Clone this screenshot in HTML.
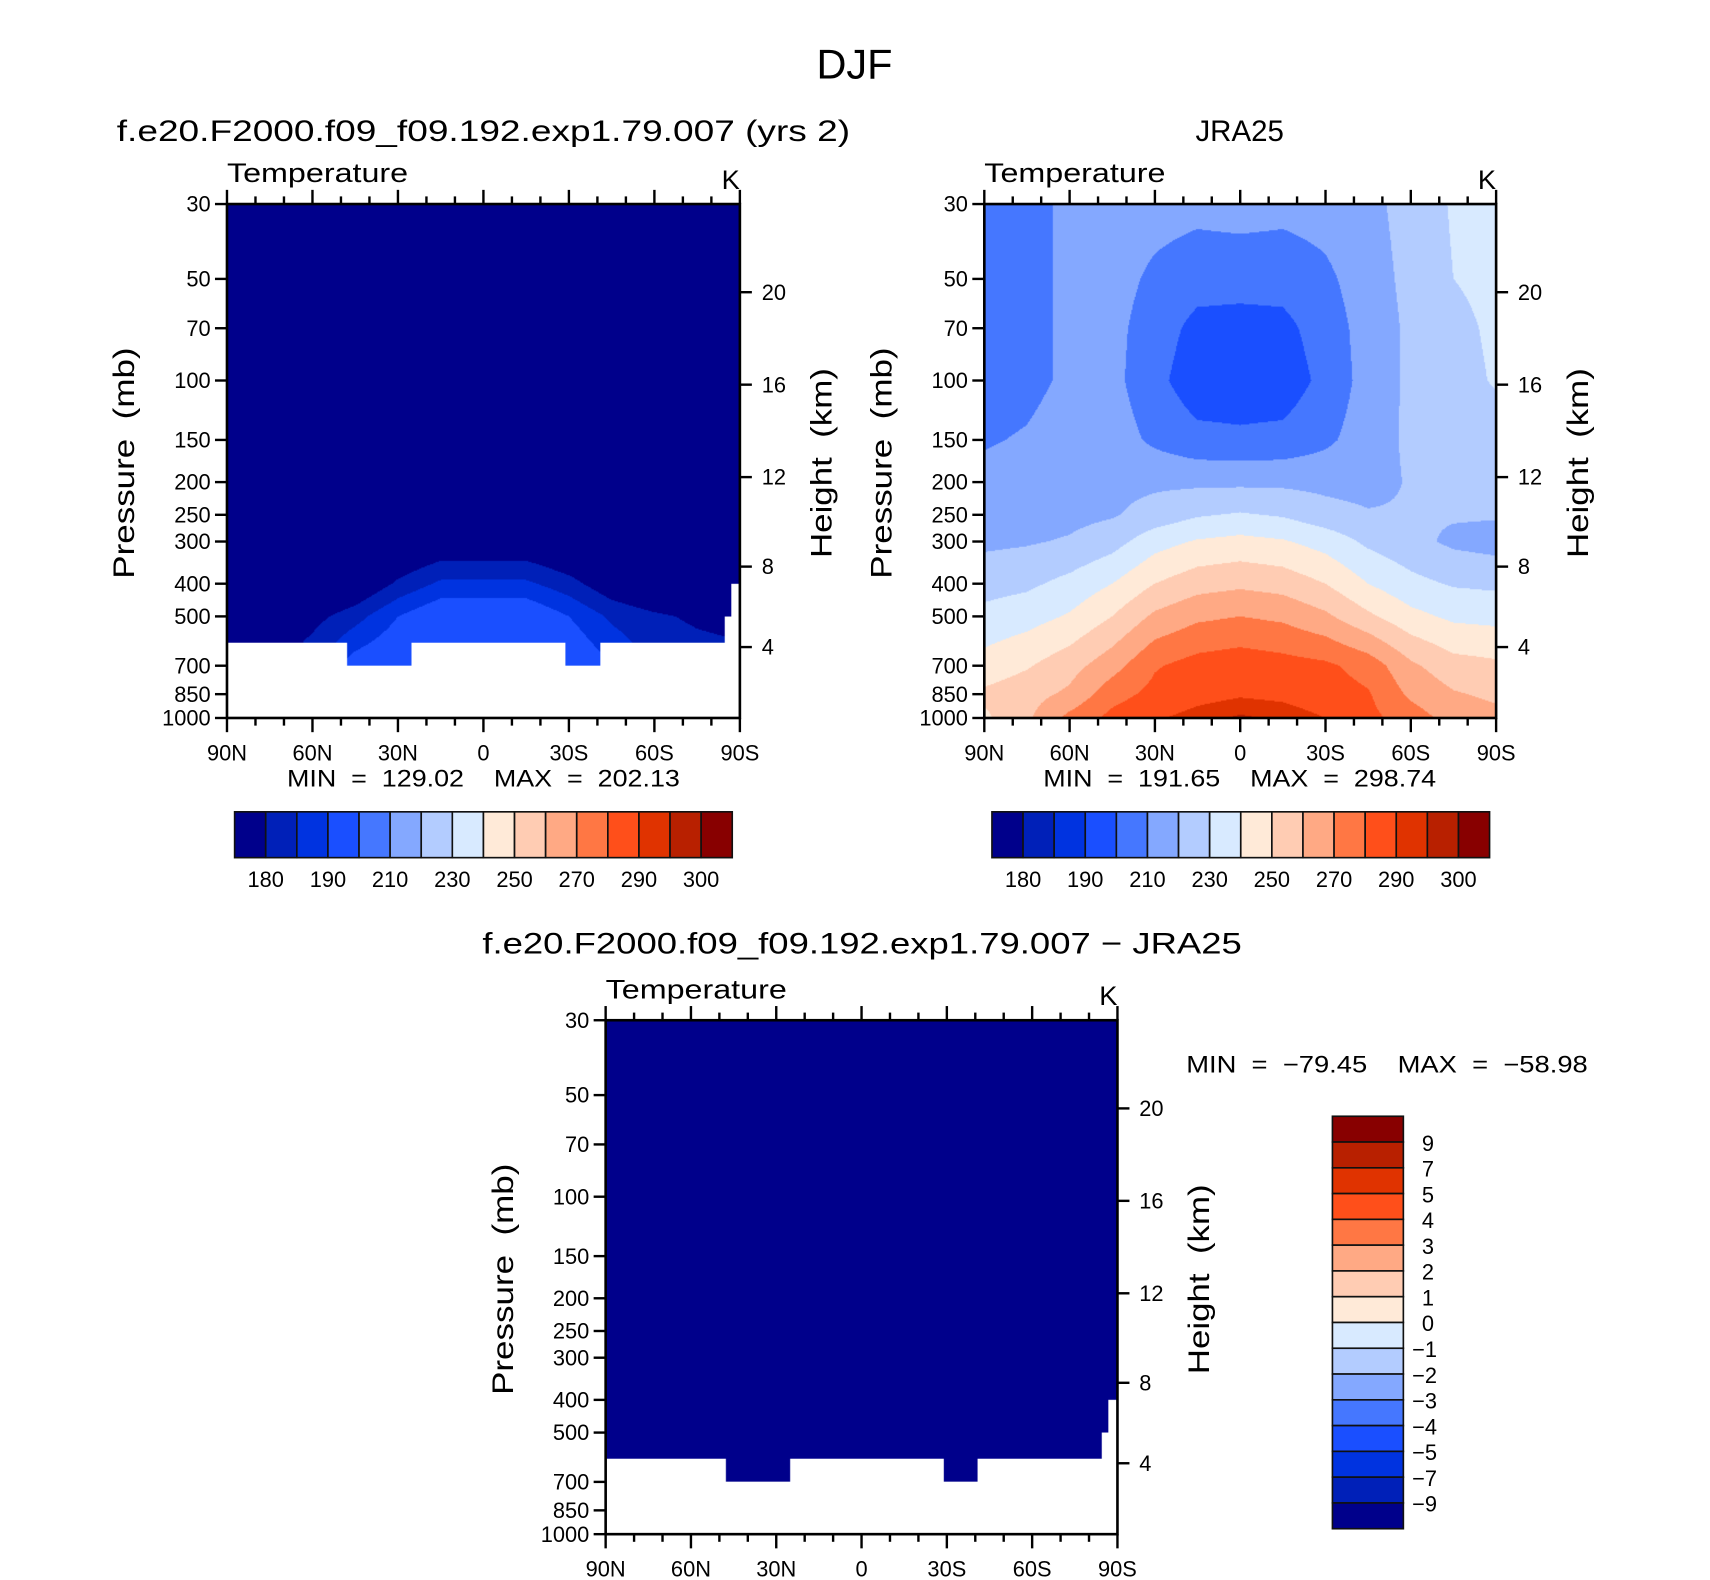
<!DOCTYPE html>
<html><head><meta charset="utf-8"><style>
html,body{margin:0;padding:0;background:#fff;}
#wrap{position:relative;width:1710px;height:1580px;overflow:hidden;background:#fff;}
canvas{position:absolute;}
svg{position:absolute;left:0;top:0;}
text{font-family:"Liberation Sans",sans-serif;fill:#000;white-space:pre;}
</style></head><body>
<div id="wrap">
<canvas id="c1"></canvas>
<canvas id="c2"></canvas>
<canvas id="c3"></canvas>
<svg id="svg" width="1710" height="1580" viewBox="0 0 1567 1448" preserveAspectRatio="none"></svg>
</div>
<script>
// ---- data ----
const pressureLevels=[30,50,70,100,150,200,250,300,400,500,700,850,1000];
const latitudes=[90,75,60,45,30,15,0,-15,-30,-45,-60,-75,-90];
const jraField=[
[205,207,212,215,214,213,214,213,214,217,224,231,234],
[204,207,212,214,208,204,204,204,208,215,223,230,233],
[204,207,212,213,205,197,196,197,205,214,222,227,232],
[205,207,212,213,203,194,194,194,203,214,222,226,231],
[209,211,215,215,208,203,202,203,208,215,222,223,225],
[213,214,216,217,218,218,218,218,217,216,221,222,222],
[215,216,217,219,224,229,231,229,224,221,221,221,221],
[218,219,221,226,236,241,243,241,236,228,223,218,216],
[226,228,233,240,250,256,258,256,250,240,233,229,228],
[233,236,241,250,262,268,270,268,262,252,243,238,237],
[244,249,256,266,279,284,286,284,282,276,262,254,252],
[252,256,262,276,283,287,289,288,285,281,268,261,258],
[248,258,273,283,289,293,296,294,290,283,275,266,263]];
const modelField=[
[150,152,155,158,160,162,162,162,160,158,156,154,152],
[148,150,153,156,158,160,160,160,158,156,154,152,150],
[146,148,152,155,157,158,158,158,157,155,153,151,149],
[145,148,152,156,158,156,155,156,158,156,153,150,148],
[150,153,157,160,162,163,163,163,162,160,157,154,152],
[158,160,162,164,166,167,167,167,166,164,162,160,158],
[162,163,165,167,169,171,171,171,169,167,165,163,162],
[165,166,167,169,172,175,175,175,172,169,167,166,165],
[170,170,171,174,181,186,186,186,182,176,173,172,171],
[172,174,178,183,190,195,195,195,190,184,181,179,178],
[176,178,184,193,196,197,197,197,196,190,184,183,182],
[178,180,186,195,198,199,199,199,198,192,186,185,184],
[180,182,188,197,200,201,202,201,200,194,188,187,186]];
const tempLevels=[180,185,190,200,210,220,230,240,250,260,270,280,290,295,300];
const tempLabels=[180,190,210,230,250,270,290,300];
const diffLevels=[-9,-7,-5,-4,-3,-2,-1,0,1,2,3,4,5,7,9];
const diffLabels=["9","7","5","4","3","2","1","0","−1","−2","−3","−4","−5","−7","−9"];
const maskEdges=[90,47.8,25.2,-28.8,-41,-84.8,-87.1,-90];
const maskBottom=[600,700,600,700,600,500,400];
const pTicks=[30,50,70,100,150,200,250,300,400,500,700,850,1000];
const hTicks=[4,8,12,16,20];
const latTicks=[90,60,30,0,-30,-60,-90];
const latTickLabels=["90N","60N","30N","0","30S","60S","90S"];
const palette=["#00008b","#0020b8","#0033e0","#1a4fff","#4577ff","#84a8ff","#b3ccff","#d8eaff","#ffead8","#ffccb3","#ffa984","#ff7744","#ff4f1a","#e03300","#b82000","#880000"];

// ---- helpers ----
const SX=1710/1567, SY=1580/1448;
const svg=document.getElementById('svg');
const NS="http://www.w3.org/2000/svg";
function mk(tag,attrs,parent){const e=document.createElementNS(NS,tag);for(const k in attrs)e.setAttribute(k,attrs[k]);(parent||svg).appendChild(e);return e;}
function txt(s,x,y,size,anchor,parent,extra){const t=mk('text',Object.assign({x:x,y:y,'font-size':size,'text-anchor':anchor||'start'},extra||{}),parent);t.textContent=s;return t;}
const LP=Math.log(1000/30);
function pToFrac(p){return Math.log(p/30)/LP;}
function heightToP(z){const m=z*1000;return m<11000?1013.25*Math.pow(1-2.25577e-5*m,5.25588):226.32*Math.exp(-(m-11000)/6341.6);}
function bottomAt(lat){for(let i=0;i<maskBottom.length;i++){if(lat<=maskEdges[i]&&lat>=maskEdges[i+1])return maskBottom[i];}return 1000;}
function sample(field,lat,p){
  let fi=(90-lat)/15; fi=Math.max(0,Math.min(12,fi));
  const lp=Math.log(p);let li=0;
  for(let k=0;k<pressureLevels.length-1;k++){if(p>=pressureLevels[k]&&p<=pressureLevels[k+1]){li=k+(lp-Math.log(pressureLevels[k]))/(Math.log(pressureLevels[k+1])-Math.log(pressureLevels[k]));break;}}
  if(p>1000)li=12;
  const i0=Math.min(11,Math.floor(fi)),j0=Math.min(11,Math.floor(li));const a=fi-i0,b=li-j0;
  const v00=field[j0][i0],v01=field[j0][i0+1],v10=field[j0+1][i0],v11=field[j0+1][i0+1];
  return (1-a)*(1-b)*v00+a*(1-b)*v01+(1-a)*b*v10+a*b*v11;
}
function colorIdx(v,levels){let c=0;for(const l of levels)if(v>=l)c++;return c;}
function hex(h){return [parseInt(h.substr(1,2),16),parseInt(h.substr(3,2),16),parseInt(h.substr(5,2),16)];}
const rgbPal=palette.map(hex);

function drawField(id,ox,oy,w,h,valFn,levels,useMask){
  const c=document.getElementById(id);c.width=w;c.height=h;
  c.style.left=(ox*SX)+'px';c.style.top=(oy*SY)+'px';c.style.width=(w*SX)+'px';c.style.height=(h*SY)+'px';
  const ctx=c.getContext('2d');const img=ctx.createImageData(w,h);
  for(let x=0;x<w;x++){const lat=90-(x+0.5)/w*180;const bot=useMask?bottomAt(lat):1000;
    for(let y=0;y<h;y++){const p=30*Math.exp((y+0.5)/h*LP);const o=(y*w+x)*4;
      if(p>bot){img.data[o]=255;img.data[o+1]=255;img.data[o+2]=255;img.data[o+3]=255;continue;}
      const col=rgbPal[colorIdx(valFn(lat,p),levels)];
      img.data[o]=col[0];img.data[o+1]=col[1];img.data[o+2]=col[2];img.data[o+3]=255;}}
  ctx.putImageData(img,0,0);
}

function drawAxes(name,ox,oy,w,h){
  const g=mk('g',{});
  const st={stroke:'#000','stroke-width':2.2};
  mk('rect',{x:ox,y:oy,width:w,height:h,fill:'none',stroke:'#000','stroke-width':2.4},g);
  for(const p of pTicks){const y=oy+pToFrac(p)*h;
    mk('line',Object.assign({x1:ox-11,y1:y,x2:ox,y2:y},st),g);
    const t=txt(String(p),ox-15,y+7,20,'end',g);}
  for(const z of hTicks){const y=oy+pToFrac(heightToP(z))*h;
    mk('line',Object.assign({x1:ox+w,y1:y,x2:ox+w+11,y2:y},st),g);
    const t=txt(String(z),ox+w+20,y+7,20,'start',g);}
  for(let lat=90;lat>=-90;lat-=10){const x=ox+(90-lat)/180*w;const major=(lat%30===0);const L=major?13:7;
    mk('line',Object.assign({x1:x,y1:oy+h,x2:x,y2:oy+h+L},st),g);
    mk('line',Object.assign({x1:x,y1:oy,x2:x,y2:oy-L},st),g);}
  latTicks.forEach((lat,i)=>{const x=ox+(90-lat)/180*w;
    const t=txt(latTickLabels[i],x,oy+h+39,20,'middle',g);});
  const t1=txt('Temperature',ox,oy-20,25,'start',g,{textLength:166,lengthAdjust:'spacingAndGlyphs'});
  const t2=txt('K',ox+w,oy-14,25,'end',g);
  const cy=oy+h*0.504;
  const t3=txt('Pressure  (mb)',ox-85,cy,27,'middle',g,{transform:`rotate(-90 ${ox-85} ${cy})`,textLength:212,lengthAdjust:'spacingAndGlyphs'});
  const t4=txt('Height  (km)',ox+w+84,cy,27,'middle',g,{transform:`rotate(-90 ${ox+w+84} ${cy})`,textLength:174,lengthAdjust:'spacingAndGlyphs'});
}

function hColorbar(name,x0,y0,w,h){
  const g=mk('g',{});
  const bw=w/palette.length;
  palette.forEach((c,i)=>{const r=mk('rect',{x:x0+i*bw,y:y0,width:bw,height:h,fill:c,stroke:'#111','stroke-width':1.5},g);
    });
  tempLabels.forEach((l,i)=>{const t=txt(String(l),x0+(2*i+1)*bw,y0+h+27,20,'middle',g);});
}
function vColorbar(name,x0,y0,w,h){
  const g=mk('g',{});
  const bh=h/palette.length;
  palette.slice().reverse().forEach((c,i)=>{const r=mk('rect',{x:x0,y:y0+i*bh,width:w,height:bh,fill:c,stroke:'#111','stroke-width':1.5},g);
    });
  diffLabels.forEach((l,i)=>{const t=txt(l,x0+w+(l.length>1?8:17),y0+(i+1)*bh+8,20,'start',g);});
}

// ---- panels ----
const P1={ox:208,oy:187,w:470,h:471}, P2={ox:902,oy:187,w:469,h:471}, P3={ox:555,oy:935,w:469,h:471};
drawField('c1',P1.ox,P1.oy,P1.w,P1.h,(la,p)=>sample(modelField,la,p),tempLevels,true);
drawField('c2',P2.ox,P2.oy,P2.w,P2.h,(la,p)=>sample(jraField,la,p),tempLevels,false);
drawField('c3',P3.ox,P3.oy,P3.w,P3.h,(la,p)=>sample(modelField,la,p)-sample(jraField,la,p),diffLevels,true);
drawAxes('model-panel',P1.ox,P1.oy,P1.w,P1.h);
drawAxes('jra25-panel',P2.ox,P2.oy,P2.w,P2.h);
drawAxes('difference-panel',P3.ox,P3.oy,P3.w,P3.h);

let t;
t=txt('DJF',783,72,38,'middle');
t=txt('f.e20.F2000.f09_f09.192.exp1.79.007 (yrs 2)',443,129,27,'middle',null,{textLength:672,lengthAdjust:'spacingAndGlyphs'});
t=txt('JRA25',1136,129,27,'middle');
t=txt('f.e20.F2000.f09_f09.192.exp1.79.007 − JRA25',790,874,27,'middle',null,{textLength:696,lengthAdjust:'spacingAndGlyphs'});
t=txt('MIN  =  129.02    MAX  =  202.13',443,721,22,'middle',null,{textLength:360,lengthAdjust:'spacingAndGlyphs'});
t=txt('MIN  =  191.65    MAX  =  298.74',1136,721,22,'middle',null,{textLength:360,lengthAdjust:'spacingAndGlyphs'});
t=txt('MIN  =  −79.45    MAX  =  −58.98',1087,983,22,'start',null,{textLength:368,lengthAdjust:'spacingAndGlyphs'});
hColorbar('model-colorbar',215,744,456,42);
hColorbar('jra25-colorbar',909,744,456,42);
vColorbar('difference-colorbar',1221,1023,65,378);
</script>
</body></html>
